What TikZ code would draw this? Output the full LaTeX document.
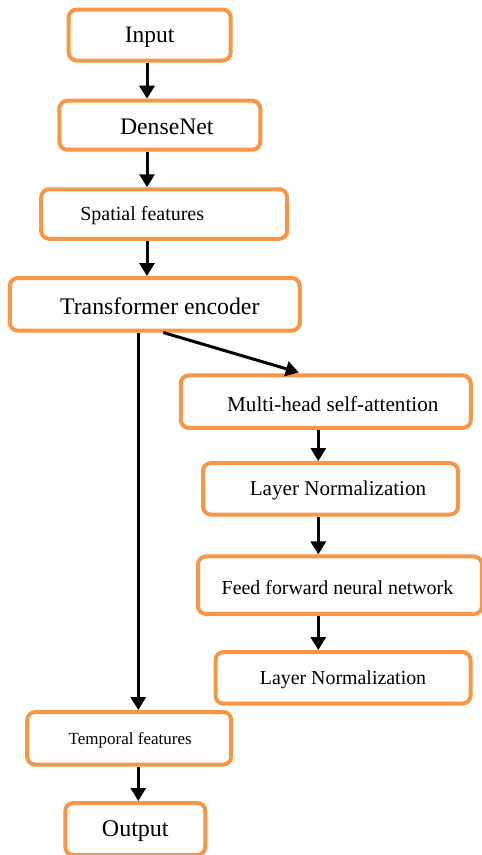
\documentclass[tikz,border=0pt]{standalone}
\usepackage{fontspec}
\setmainfont{Liberation Serif}
\usetikzlibrary{arrows.meta}

\definecolor{boxorange}{HTML}{F79646}
% move the text inside a box sideways (and a little down)
\newcommand{\nudge}[2]{\raisebox{-2pt}[\height][\depth]{\hspace*{#1}#2\hspace*{-#1}}}
\newcommand{\fsz}[1]{\fontsize{#1}{#1}\selectfont}

\begin{document}
\begin{tikzpicture}[x=1pt,y=-1pt,
  blk/.style={draw=boxorange, line width=4pt, rounded corners=8pt, inner sep=0pt},
  arr/.style={line width=3pt, -{Triangle[length=13pt,width=15pt]}}]

\useasboundingbox (0,0) rectangle (482,855);

% main column
\node[blk, minimum width=162, minimum height=51, font=\fsz{23.5}] (in) at (149.7,35) {\nudge{0pt}{Input}};
\node[blk, minimum width=201, minimum height=49, font=\fsz{23.7}] (dn) at (159.8,125.2) {\nudge{7pt}{DenseNet}};
\node[blk, minimum width=246, minimum height=49.5, font=\fsz{20}] (sp) at (164.2,214) {\nudge{-22pt}{Spatial features}};
\node[blk, minimum width=290, minimum height=52.5, font=\fsz{23.8}] (enc) at (154.8,304.3) {\nudge{5pt}{Transformer encoder}};

% encoder block
\node[blk, minimum width=290, minimum height=52.5, font=\fsz{21.2}] (mh) at (325.8,401.7) {\nudge{7pt}{Multi-head self-attention}};
\node[blk, minimum width=255, minimum height=51.5, font=\fsz{21.1}] (ln1) at (330.5,488.8) {\nudge{7.5pt}{Layer Normalization}};
\node[blk, minimum width=284, minimum height=57.5, font=\fsz{19.9}] (ff) at (340,585.2) {\nudge{-2.5pt}{Feed forward neural network}};
\node[blk, minimum width=255, minimum height=51.5, font=\fsz{19.9}] (ln2) at (343,677.8) {\nudge{0pt}{Layer Normalization}};

% output column
\node[blk, minimum width=204, minimum height=52.5, font=\fsz{17}] (tmp) at (129.2,738.3) {\nudge{1pt}{Temporal features}};
\node[blk, minimum width=140, minimum height=52, font=\fsz{24}] (out) at (135.3,829) {\nudge{0pt}{Output}};

\coordinate (colA) at (147,0);
\coordinate (colB) at (138.3,0);
\coordinate (colC) at (318.3,0);

\draw[arr] (in.south -| colA) -- (dn.north -| colA);
\draw[arr] (dn.south -| colA) -- (sp.north -| colA);
\draw[arr] (sp.south -| colA) -- (enc.north -| colA);
\draw[arr] (enc.south -| colB) -- (tmp.north -| colB);
\draw[arr] ([xshift=8.5pt]enc.south) -- ([xshift=-27pt,yshift=1pt]mh.north);
\draw[arr] (mh.south -| colC) -- (ln1.north -| colC);
\draw[arr] (ln1.south -| colC) -- (ff.north -| colC);
\draw[arr] (ff.south -| colC) -- (ln2.north -| colC);
\draw[arr] (tmp.south -| colB) -- (out.north -| colB);

\end{tikzpicture}
\end{document}
